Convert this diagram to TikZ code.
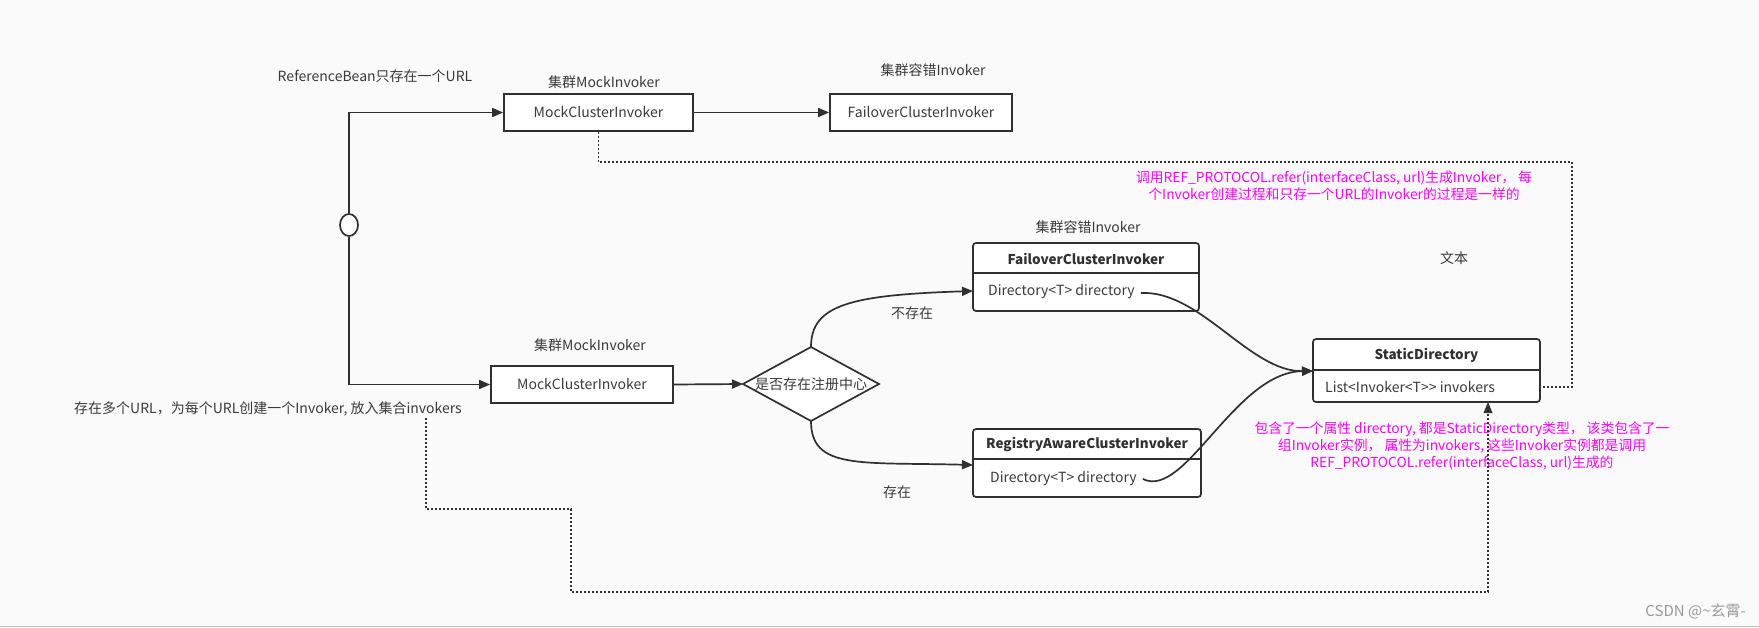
\documentclass[tikz,border=0pt]{standalone}
\usepackage{fontspec}
\newfontfamily\cjk{Noto Sans CJK SC}
\newfontfamily\wmfont{Noto Sans CJK SC}
\usetikzlibrary{arrows.meta,shapes.geometric,calc}
\definecolor{bg}{HTML}{FAFAFA}
\definecolor{ink}{HTML}{303030}
\definecolor{txt}{HTML}{3A3A3A}
\definecolor{pinkc}{HTML}{FF00FF}
\definecolor{wm}{HTML}{9A9A9A}
\tikzset{
  lbl/.style={font=\cjk\fontsize{14}{17}\selectfont, text=txt, inner sep=0pt},
  pinktxt/.style={font=\cjk\fontsize{13.8}{17}\selectfont, text=pinkc, inner sep=0pt, align=center},
  plainbox/.style={draw=ink, fill=white, line width=1.7pt, inner sep=0pt, font=\cjk\fontsize{14}{17}\selectfont, text=txt},
  clsbox/.style={draw=ink, fill=white, line width=1.7pt, inner sep=0pt, rounded corners=3pt},
  hdr/.style={font=\cjk\bfseries\fontsize{13.5}{17}\selectfont, text=ink, inner sep=0pt},
  arr/.style={draw=ink, line width=1.7pt, -{Triangle[length=11pt,width=9pt]}},
  dots/.style={draw=ink, line width=1.8pt, dash pattern=on 2pt off 2pt},
}
\begin{document}
\begin{tikzpicture}[x=1pt,y=-1pt]
\fill[bg] (0,0) rectangle (1759,628);
\useasboundingbox (0,0) rectangle (1759,628);
\draw[draw=black!25, line width=1.5pt] (0,626.5) -- (1759,626.5);

% labels
\node[lbl] (refLbl) at (375,76) {ReferenceBean只存在一个URL};
\node[lbl] (mock1Lbl) at (604,82) {集群MockInvoker};
\node[lbl] (fail1Lbl) at (933,70) {集群容错Invoker};
\node[lbl] (mock2Lbl) at (590,345) {集群MockInvoker};
\node[lbl] (failLbl) at (1088,227) {集群容错Invoker};
\node[lbl] (textLbl) at (1454,258) {文本};
\node[lbl] (multiLbl) at (268,409) {存在多个URL，为每个URL创建一个Invoker, 放入集合invokers};
\node[lbl] (noLbl) at (912,313) {不存在};
\node[lbl] (yesLbl) at (897,492) {存在};

% simple boxes
\node[plainbox, minimum width=189pt, minimum height=37pt] (mock1) at (598.5,112.5) {MockClusterInvoker};
\node[plainbox, minimum width=182pt, minimum height=37pt] (fail1) at (921,112.5) {FailoverClusterInvoker};
\node[plainbox, minimum width=182pt, minimum height=37pt] (mock2) at (582,384.5) {MockClusterInvoker};

% circle
\node[ellipse, draw=ink, fill=white, line width=1.7pt, minimum width=18pt, minimum height=22pt, inner sep=0pt] (circ) at (349,225) {};

% diamond
\coordinate (decW) at (743,384);
\coordinate (decN) at (811,347);
\coordinate (decE) at (879,384);
\coordinate (decS) at (811,421);
\draw[draw=ink, fill=white, line width=1.7pt] (decW) -- (decN) -- (decE) -- (decS) -- cycle;
\node[lbl] (decTxt) at (811,384) {是否存在注册中心};

% class boxes
\node[clsbox, minimum width=226pt, minimum height=68pt] (failCls) at (1086,277) {};
\draw[draw=ink, line width=1.7pt] ($(failCls.north west)+(0,31)$) -- ($(failCls.north east)+(0,31)$);
\node[hdr] (failHdr) at (1086,258.5) {FailoverClusterInvoker};
\node[lbl, anchor=west] (failDir) at (988,292) {Directory<T> directory};

\node[clsbox, minimum width=228pt, minimum height=68pt] (regCls) at (1087,463) {};
\draw[draw=ink, line width=1.7pt] ($(regCls.north west)+(0,31)$) -- ($(regCls.north east)+(0,31)$);
\node[hdr] (regHdr) at (1087,444.5) {RegistryAwareClusterInvoker};
\node[lbl, anchor=west] (regDir) at (990,479) {Directory<T> directory};

\node[clsbox, minimum width=227pt, minimum height=63pt] (static) at (1426.5,370.5) {};
\draw[draw=ink, line width=1.7pt] ($(static.north west)+(0,32)$) -- ($(static.north east)+(0,32)$);
\node[hdr] (staticHdr) at (1426.5,355) {StaticDirectory};
\node[lbl, anchor=west] (staticList) at (1325,387) {List<Invoker<T>> invokers};

% pink notes
\node[pinktxt] (note1) at (1334,186) {调用REF\_PROTOCOL.refer(interfaceClass, url)生成Invoker， 每\\个Invoker创建过程和只存一个URL的Invoker的过程是一样的};
\node[pinktxt] (note2) at (1462,446) {包含了一个属性 directory, 都是StaticDirectory类型， 该类包含了一\\组Invoker实例， 属性为invokers, 这些Invoker实例都是调用\\REF\_PROTOCOL.refer(interfaceClass, url)生成的};

% watermark
\node[font=\wmfont\fontsize{15}{17}\selectfont, text=wm, inner sep=0pt, anchor=east] (wmark) at (1746,611) {CSDN @\textasciitilde 玄霄-};

% connectors
\coordinate (failIn) at (973,291);
\coordinate (regIn) at (973,465);
\coordinate (stIn) at (1313,371);
\coordinate (stR) at (1540,387);
\coordinate (stB) at (1488,402);
\draw[arr] (circ.north) |- (mock1.west);
\draw[arr] (circ.south) |- (mock2.west);
\draw[arr] (mock1.east) -- (fail1.west);
\draw[arr] (mock2.east) -- (decW);
\draw[arr] (decN) .. controls (811,305) and (850,295) .. (failIn);
\draw[arr] (decS) .. controls (811,470) and (860,462) .. (regIn);
\draw[arr] ($(failDir.east)+(6,1)$) .. controls (1200,290) and (1250,372) .. (stIn);
\draw[arr] ($(regDir.east)+(6,0)$) .. controls (1185,500) and (1235,372) .. (stIn);

\draw[dots] (mock1.south) |- (1572,162) |- (stR);
\coordinate (mStart) at (426,418);
\draw[dots] (mStart) -- (426,509) -- (571,509) -- (571,592) -- (1488,592) -- ($(stB)+(0,11)$);
\fill[ink] (stB) -- ++(-4.5,11) -- ++(9,0) -- cycle;
\end{tikzpicture}
\end{document}
